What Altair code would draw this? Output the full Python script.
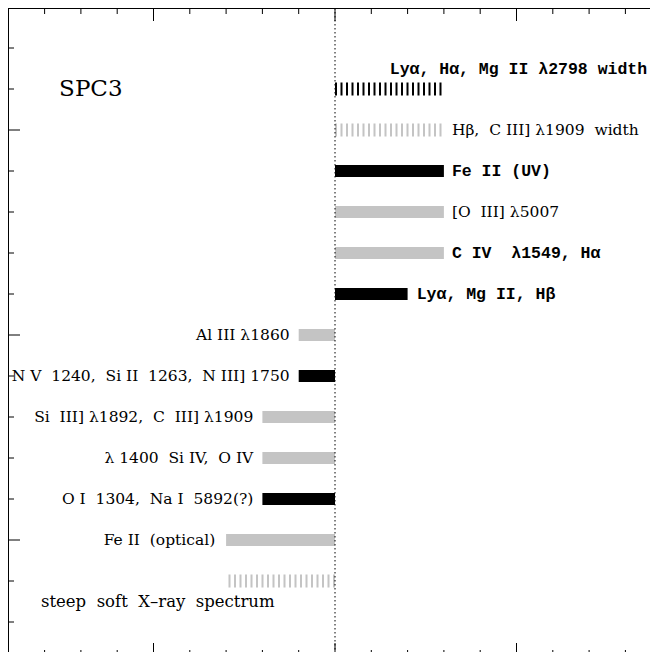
import altair as alt
import pandas as pd

# ---- data ----
rows      = [2, 3, 4, 5, 6, 7, 8, 9, 10, 11, 12, 13, 14]
bar_end   = [3, 3, 3, 3, 3, 2, -1, -1, -2, -2, -2, -3, -3]
bar_group = ["dark", "light", "dark", "light", "light", "dark",
             "light", "dark", "light", "light", "dark", "light", "light"]
bar_hatch = [True, True, False, False, False, False,
             False, False, False, False, False, False, True]

lab_text = ["Ly\u03b1, H\u03b1, Mg II \u03bb2798 width",
            "H\u03b2,\u00a0 C III] \u03bb1909\u00a0 width",
            "Fe II (UV)",
            "[O\u00a0 III] \u03bb5007",
            "C IV\u00a0 \u03bb1549, H\u03b1",
            "Ly\u03b1, Mg II, H\u03b2",
            "Al III \u03bb1860",
            "N V\u00a0 1240,\u00a0 Si II\u00a0 1263,\u00a0 N III] 1750",
            "Si\u00a0 III] \u03bb1892,\u00a0 C\u00a0 III] \u03bb1909",
            "\u03bb 1400\u00a0 Si IV,\u00a0 O IV",
            "O I\u00a0 1304,\u00a0 Na I\u00a0 5892(?)",
            "Fe II\u00a0 (optical)",
            "steep\u00a0 soft\u00a0 X\u2013ray\u00a0 spectrum"]
lab_x     = [8.6, 3.22, 3.22, 3.22, 3.22, 2.25, -1.25, -1.25, -2.25, -2.25, -2.25, -3.3, -8.1]
lab_y     = [1.5, 3, 4, 5, 6, 7, 8, 9, 10, 11, 12, 13, 14.5]
lab_side  = ["right", "left", "left", "left", "left", "left",
             "right", "right", "right", "right", "right", "right", "left"]
lab_bold  = [True, False, True, False, True, True,
             False, False, False, False, False, False, False]
lab_size  = [16.5, 15.5, 16.5, 15.5, 16.5, 16.5, 15.5, 15.5, 15.5, 15.5, 15.5, 15.5, 16.5]

panel_label = "SPC3"
panel_x, panel_y = -7.6, 2

x_ticks = list(range(-8, 9))
x_major = [-5, 0, 5]
y_ticks = list(range(1, 16))
y_major = [3, 8, 13]

W, H = 642, 644
PX_X, PX_Y = 36.3, 41.0
x0 = -327.0 / PX_X
y0 = 1 - 40.0 / PX_Y
xs = alt.Scale(domain=[x0, x0 + W / PX_X], nice=False, zero=False)
ys = alt.Scale(domain=[y0, y0 + H / PX_Y], nice=False, zero=False, reverse=True)

bars = pd.DataFrame({"row": rows, "start": [0] * len(rows), "end": bar_end,
                     "group": bar_group, "hatch": bar_hatch})
labels = pd.DataFrame({"x": lab_x, "y": lab_y, "text": lab_text,
                       "side": lab_side, "bold": lab_bold, "size": lab_size})

color = alt.Color("group:N", scale=alt.Scale(domain=["dark", "light"],
                                             range=["#000000", "#c4c4c4"]), legend=None)

base_bar = alt.Chart(bars).encode(
    x=alt.X("start:Q", scale=xs, axis=None),
    x2="end:Q",
    y=alt.Y("row:Q", scale=ys, axis=None),
    color=color,
)
solid = base_bar.transform_filter("!datum.hatch").mark_rule(strokeWidth=12, strokeCap="butt")
hatched = base_bar.transform_filter("datum.hatch").mark_rule(
    strokeWidth=13, strokeCap="butt", strokeDash=[2, 3.5])

center = alt.Chart(pd.DataFrame({"v": [0]})).mark_rule(
    color="black", strokeWidth=1, strokeDash=[1.5, 2.5]).encode(
    x=alt.X("v:Q", scale=xs, axis=None), y=alt.value(0), y2=alt.value(H))

layers = [solid, hatched, center]

for side, bold in [("left", False), ("left", True), ("right", False), ("right", True)]:
    cond = f"datum.side == '{side}' && datum.bold == {'true' if bold else 'false'}"
    layers.append(
        alt.Chart(labels).transform_filter(cond).mark_text(
            align=side, baseline="middle",
            font="Liberation Mono" if bold else "DejaVu Serif",
            fontWeight="bold" if bold else "normal", color="black").encode(
            x=alt.X("x:Q", scale=xs, axis=None),
            y=alt.Y("y:Q", scale=ys, axis=None),
            size=alt.Size("size:Q", scale=None, legend=None),
            text="text:N"))

layers.append(
    alt.Chart(pd.DataFrame({"x": [panel_x], "y": [panel_y], "t": [panel_label]})).mark_text(
        align="left", baseline="middle", font="DejaVu Serif", fontSize=23,
        color="black").encode(
        x=alt.X("x:Q", scale=xs, axis=None), y=alt.Y("y:Q", scale=ys, axis=None), text="t:N"))

# frame (left and top edges; right and bottom lie outside the picture)
layers.append(alt.Chart(pd.DataFrame({"a": [0]})).mark_rule(color="black", strokeWidth=2).encode(
    x=alt.value(0), x2=alt.value(W), y=alt.value(0)))
layers.append(alt.Chart(pd.DataFrame({"a": [0]})).mark_rule(color="black", strokeWidth=2).encode(
    x=alt.value(0), y=alt.value(0), y2=alt.value(H)))

for vals, ln in [([v for v in x_ticks if v not in x_major], 6), (x_major, 13)]:
    d = pd.DataFrame({"v": vals})
    layers.append(alt.Chart(d).mark_rule(color="black", strokeWidth=1).encode(
        x=alt.X("v:Q", scale=xs, axis=None), y=alt.value(0), y2=alt.value(ln)))
    layers.append(alt.Chart(d).mark_rule(color="black", strokeWidth=1).encode(
        x=alt.X("v:Q", scale=xs, axis=None), y=alt.value(H - ln + 4), y2=alt.value(H)))
for vals, ln in [([v for v in y_ticks if v not in y_major], 6), (y_major, 12)]:
    d = pd.DataFrame({"v": vals})
    layers.append(alt.Chart(d).mark_rule(color="black", strokeWidth=1).encode(
        y=alt.Y("v:Q", scale=ys, axis=None), x=alt.value(0), x2=alt.value(ln)))

chart = alt.layer(*layers).properties(
    width=W, height=H, padding=0,
    autosize=alt.AutoSizeParams(type="none"),
).configure_view(stroke=None)

chart.save("out.html", embed_options={"renderer": "svg", "actions": False})
